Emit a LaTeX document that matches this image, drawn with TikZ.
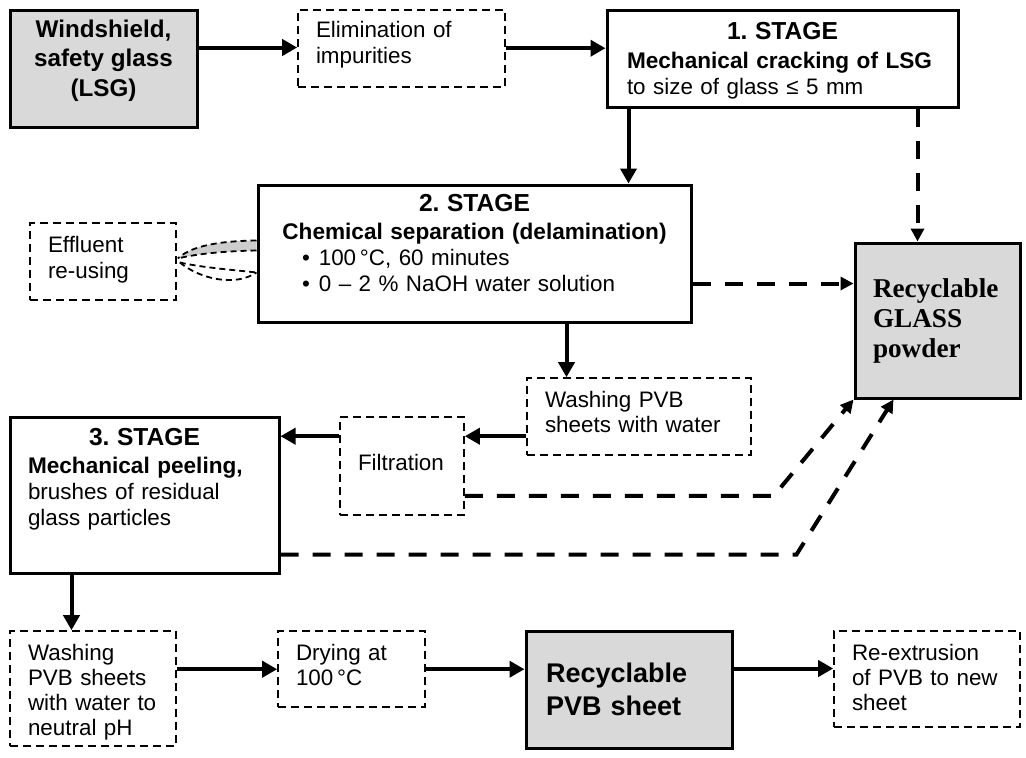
\documentclass[tikz,border=0pt]{standalone}
\usepackage{fontspec}
\setmainfont{Liberation Sans}
\newfontfamily\serifbold{Liberation Serif}
\usetikzlibrary{arrows.meta,calc,positioning}
\setlength{\parindent}{0pt}
\frenchspacing

\definecolor{boxgray}{HTML}{D9D9D9}
\definecolor{bandgray}{HTML}{CDCDCD}

\newcommand{\txtfont}{\fontsize{11.2}{13}\selectfont}
\newcommand{\subfont}{\fontsize{11.3}{14}\selectfont\bfseries}
\newcommand{\stagefont}{\fontsize{12.3}{14}\selectfont\bfseries}
\newcommand{\lowpad}[1]{\rule[-#1]{0pt}{#1}}
\newcommand{\toppad}[1]{\rule{0pt}{#1}}

\tikzset{
  stagebox/.style={draw, line width=1.5pt, inner xsep=10pt, inner ysep=0pt, align=left, font=\txtfont},
  optbox/.style={draw, line width=0.8pt, dash pattern=on 4pt off 2.5pt, inner xsep=9pt, inner ysep=0pt, align=left, font=\txtfont},
  prodbox/.style={draw, fill=boxgray, line width=1.5pt, inner xsep=10pt, inner ysep=0pt, align=left},
  flow/.style={line width=2pt, -{Triangle[length=7.5pt,width=8pt]}},
  glassflow/.style={line width=2pt, dash pattern=on 9pt off 7pt, -{Triangle[length=6.5pt,width=6.5pt]}},
  loopline/.style={line width=0.9pt, dash pattern=on 3pt off 2pt},
}

\begin{document}
\begin{tikzpicture}[x=0.5pt,y=-0.5pt]
  \useasboundingbox (0,0) rectangle (1026,757);

  % top row
  \node[prodbox, minimum width=93.5pt, minimum height=58.5pt, align=center,
        font=\fontsize{12.1}{14.7}\selectfont\bfseries] (wind) at (103.5,68.5)
        {Windshield,\\safety glass\\(LSG)\lowpad{10.45pt}};
  \node[optbox, minimum width=103.5pt, minimum height=38.5pt, text width=85.5pt] (elim) at (401.5,48.5)
        {Elimination of\\impurities\lowpad{6.2pt}};
  \node[stagebox, minimum width=175.5pt, minimum height=48.5pt, text width=155.5pt] (st1) at (782.5,58.5)
        {{\stagefont\centering\toppad{11.2pt}1. STAGE\par}{\fontsize{11.3}{14.5}\selectfont\bfseries Mechanical cracking of LSG\par}to size of glass ≤ 5 mm};

  % stage 2 and the effluent loop
  \node[optbox, minimum width=73pt, minimum height=38.5pt, text width=55pt] (eff) at (103,261.5)
        {Effluent\\re-using\lowpad{3.65pt}};
  \node[stagebox, minimum width=216.5pt, minimum height=68.5pt, text width=196.5pt] (st2) at (474.5,253.5)
        {{\stagefont\centering 2. STAGE\par}{\subfont\centering Chemical separation (delamination)\par}\hspace*{12pt}•\hspace{4.5pt}100\,°C, 60 minutes\\\hspace*{12pt}•\hspace{4.5pt}0 – 2 \% NaOH water solution\lowpad{10.3pt}};
  \node[prodbox, minimum width=82.5pt, minimum height=77.5pt, text width=64.5pt, inner xsep=9pt,
        font=\serifbold\fontsize{13.6}{15}\selectfont\bfseries] (glass) at (937.5,320.5)
        {Recyclable\\GLASS\\powder};

  % stage 3 row
  \node[optbox, minimum width=112pt, minimum height=38.5pt, text width=94pt,
        font=\fontsize{11.2}{12.5}\selectfont] (wash1) at (639,416.5)
        {Washing PVB\\sheets with water\lowpad{5pt}};
  \node[optbox, minimum width=62pt, minimum height=49pt, text width=44pt] (filt) at (402,466)
        {Filtration\lowpad{4pt}};
  \node[stagebox, minimum width=134.5pt, minimum height=78pt, text width=116.5pt, inner xsep=9pt] (st3) at (144.5,495)
        {{\stagefont\centering 3. STAGE\par}{\subfont Mechanical peeling,\par}brushes of residual\\glass particles\lowpad{17.8pt}};

  % bottom row
  \node[optbox, minimum width=83pt, minimum height=57.5pt, text width=65pt,
        font=\fontsize{11.2}{12.5}\selectfont] (wash2) at (93,688.5)
        {\toppad{11.35pt}Washing\\PVB sheets\\with water to\\neutral pH};
  \node[optbox, minimum width=73.5pt, minimum height=38pt, text width=55.5pt,
        font=\fontsize{11.2}{12.5}\selectfont] (dry) at (351.5,669)
        {Drying at\\100\,°C\lowpad{4.5pt}};
  \node[prodbox, minimum width=103pt, minimum height=58.5pt, text width=83pt,
        font=\fontsize{13.5}{16.5}\selectfont\bfseries] (pvb) at (629,689.5)
        {Recyclable\\PVB sheet};
  \node[optbox, minimum width=93pt, minimum height=48pt, text width=75pt,
        font=\fontsize{11.2}{12.5}\selectfont] (reex) at (927,679)
        {Re-extrusion\\of PVB to new\\sheet\lowpad{2pt}};

  % main flow
  \coordinate (a1) at ($(wind.north east)+(0,39)$);
  \draw[flow] (a1) -- (a1 -| elim.west);
  \coordinate (a2) at ($(elim.north east)+(0,39)$);
  \draw[flow] (a2) -- (a2 -| st1.west);
  \coordinate (a3) at ($(st1.south west)+(23,0)$);
  \draw[flow] (a3) -- (a3 |- st2.north);
  \coordinate (a4) at ($(st2.south west)+(310,0)$);
  \draw[flow] (a4) -- (a4 |- wash1.north);
  \coordinate (a5) at ($(wash1.north west)+(0,59)$);
  \draw[flow] (a5) -- (a5 -| filt.east);
  \coordinate (a6) at ($(filt.north west)+(0,20)$);
  \draw[flow] (a6) -- (a6 -| st3.east);
  \coordinate (a7) at ($(st3.south west)+(63,0)$);
  \draw[flow] (a7) -- (a7 |- wash2.north);
  \coordinate (a8) at ($(wash2.north east)+(0,39)$);
  \draw[flow] (a8) -- (a8 -| dry.west);
  \coordinate (a9) at ($(dry.north east)+(0,39)$);
  \draw[flow] (a9) -- (a9 -| pvb.west);
  \coordinate (a10) at ($(pvb.north east)+(0,39)$);
  \draw[flow] (a10) -- (a10 -| reex.west);

  % glass streams
  \coordinate (g1) at ($(st1.south east)+(-42,0)$);
  \draw[glassflow] (g1) -- (g1 |- glass.north);
  \coordinate (g2) at ($(st2.south east)+(0,-40)$);
  \draw[glassflow] (g2) -- (g2 -| glass.west);
  \coordinate (g3) at ($(filt.south east)+(0,-20)$);
  \draw[glassflow] (g3) -- ++(309,0) -- (glass.south west);
  \coordinate (g4) at ($(st3.south east)+(0,-20)$);
  \draw[glassflow] (g4) -- ++(516,0) -- ($(glass.south west)+(40,0)$);

  % effluent loop
  \coordinate (e1) at ($(st2.west)+(0,-13)$);
  \coordinate (e2) at ($(st2.west)+(0,-3)$);
  \coordinate (e3) at ($(eff.east)+(1,-3)$);
  \coordinate (e4) at ($(st2.west)+(0,19)$);
  \coordinate (e5) at ($(eff.east)+(3,1)$);
  \fill[bandgray] (e1) .. controls (215,241) and (190,247) .. (e3) .. controls (195,254) and (225,251) .. (e2) -- cycle;
  \draw[loopline] (e1) .. controls (215,241) and (190,247) .. (e3);
  \draw[loopline] (e2) .. controls (225,251) and (195,254) .. (e3);
  \draw[loopline] (e5) .. controls (205,268) and (235,270) .. (e4);
  \draw[loopline] (e5) .. controls (200,279) and (235,287) .. (e4);
\end{tikzpicture}
\end{document}
